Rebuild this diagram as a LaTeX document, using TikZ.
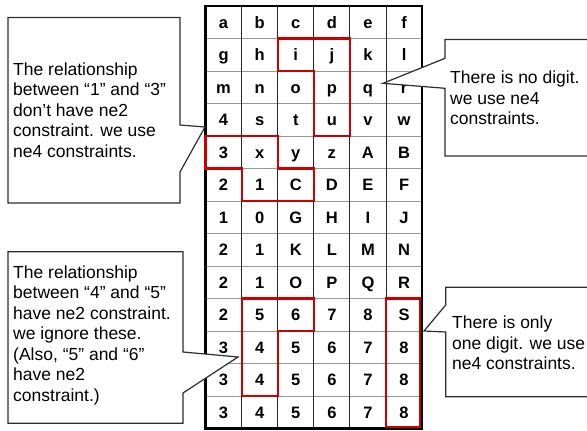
\documentclass[tikz,border=0pt]{standalone}
\usepackage{fontspec}
\setmainfont{Liberation Sans}
\definecolor{rd}{RGB}{204,0,0}
\definecolor{calloutline}{RGB}{45,45,45}
\begin{document}
\begin{tikzpicture}[x=1pt,y=-1pt,
  cell/.style={font=\fontsize{16.5}{16.5}\selectfont\bfseries, inner sep=0pt, anchor=base, yshift=-5.9pt},
  hline/.style={draw=black!40, line width=1pt},
  vline/.style={draw=black!85, line width=0.9pt},
  frame/.style={draw=black, line width=2.4pt},
  region/.style={draw=rd, line width=2.1pt, line join=miter},
  callout/.style={draw=calloutline, line width=1.2pt, fill=white, line join=miter},
  ctext/.style={anchor=west, align=left, inner sep=0pt, font=\fontsize{17.5}{20.5}\selectfont}]
\useasboundingbox (0,0) rectangle (587,431);
\begin{scope}[shift={(205.5,6)}, x=36.1pt, y=-32.5pt]
  \foreach \ri in {1,...,12} \draw[hline] (0,\ri) -- (6,\ri);
  \foreach \ci in {1,...,5} \draw[vline] (\ci,0) -- (\ci,13);
  \draw[frame] (0,0) rectangle (6,13);
  \foreach \row [count=\ri from 0] in {{a,b,c,d,e,f},{g,h,i,j,k,l},{m,n,o,p,q,r},{4,s,t,u,v,w},{3,x,y,z,A,B},{2,1,C,D,E,F},{1,0,G,H,I,J},{2,1,K,L,M,N},{2,1,O,P,Q,R},{2,5,6,7,8,S},{3,4,5,6,7,8},{3,4,5,6,7,8},{3,4,5,6,7,8}} {
    \foreach \t [count=\ci from 0] in \row {
      \node[cell] (cell-\ri-\ci) at (\ci+0.5,\ri+0.5) {\t};
    }
  }
  \draw[region] (2,1) -- (4,1) -- (4,4) -- (3,4) -- (3,2) -- (2,2) -- cycle;
  \draw[region] (0,4) -- (2,4) -- (2,5) -- (3,5) -- (3,6) -- (1,6) -- (1,5) -- (0,5) -- cycle;
  \draw[region] (1,9) -- (3,9) -- (3,10) -- (2,10) -- (2,12) -- (1,12) -- cycle;
  \draw[region] (5,9) rectangle (5.95,12.95);
\end{scope}
% callouts
\draw[callout] (8,17.5) -- (180,17.5) -- (180,125) -- (205,127) -- (180,172) -- (180,203) -- (8,203) -- cycle;
\node[ctext] (tl) at (13,110) {The relationship\\between “1” and “3”\\don’t have ne2\\constraint. we use\\ne4 constraints.};
\draw[callout] (600,39.5) -- (445,39.5) -- (445,58.3) -- (383,83.3) -- (445,88.3) -- (445,156) -- (600,156);
\node[ctext] (tr) at (450,98) {There is no digit.\\we use ne4\\constraints.};
\draw[callout] (600,287.3) -- (445.7,287.3) -- (445.7,305) -- (424,331) -- (445.7,332) -- (445.7,396.7) -- (600,396.7);
\node[ctext] (br) at (452,343) {There is only\\one digit. we use\\ne4 constraints.};
\draw[callout] (8,251.7) -- (183,251.7) -- (183,352) -- (238,357) -- (183,393) -- (183,423.3) -- (8,423.3) -- cycle;
\node[ctext] (bl) at (13,335) {The relationship\\between “4” and “5”\\have ne2 constraint.\\we ignore these.\\(Also, “5” and “6”\\have ne2\\constraint.)};
\end{tikzpicture}
\end{document}
